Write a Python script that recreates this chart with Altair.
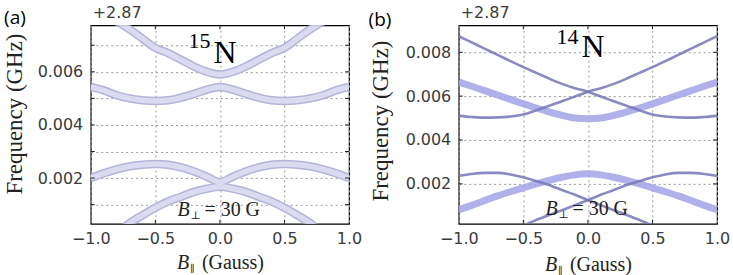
import altair as alt
import pandas as pd

# Parallel field (Gauss) at which every level was sampled
b_par = [-1.0, -0.9, -0.8, -0.7, -0.6, -0.5, -0.4, -0.3, -0.2, -0.1, 0.0,
         0.1, 0.2, 0.3, 0.4, 0.5, 0.6, 0.7, 0.8, 0.9, 1.0]

# 15N transition frequencies (GHz, offset from 2.87)
n15_top = [0.0085, 0.0082, 0.0079, 0.0076, 0.00725, 0.0069, 0.0067, 0.00645, 0.0062, 0.0060, 0.0059,
           0.0060, 0.0062, 0.00645, 0.0067, 0.0069, 0.00725, 0.0076, 0.0079, 0.0082, 0.0085]
n15_upper = [0.00543, 0.0053, 0.00512, 0.0050, 0.00493, 0.0049, 0.00493, 0.00503, 0.00517, 0.00533, 0.00543,
             0.00533, 0.00517, 0.00503, 0.00493, 0.0049, 0.00493, 0.0050, 0.00512, 0.0053, 0.00543]
n15_lower = [0.0020, 0.00218, 0.00233, 0.00244, 0.0025, 0.00253, 0.0025, 0.0024, 0.00225, 0.00205, 0.00185,
             0.00205, 0.00225, 0.0024, 0.0025, 0.00253, 0.0025, 0.00244, 0.00233, 0.00218, 0.0020]
n15_bottom = [-0.0007, -0.0004, -0.0001, 0.0003, 0.0006, 0.00088, 0.00112, 0.0013, 0.00148, 0.0016, 0.00167,
              0.0016, 0.00148, 0.0013, 0.00112, 0.00088, 0.0006, 0.0003, -0.0001, -0.0004, -0.0007]

# 14N transition frequencies (GHz, offset from 2.87): weak (thin) and strong (wide) lines
n14_thin_hi_a = [0.00873, 0.00845, 0.00817, 0.00788, 0.0076, 0.00732, 0.00706, 0.0068, 0.00656, 0.00636, 0.0062,
                 0.00598, 0.00577, 0.00556, 0.00535, 0.00516, 0.00507, 0.00503, 0.00502, 0.00505, 0.0051]
n14_thin_hi_b = list(reversed(n14_thin_hi_a))
n14_thin_lo_a = [0.00236, 0.00245, 0.0025, 0.0025, 0.00243, 0.0023, 0.00213, 0.00195, 0.00172, 0.0015, 0.00126,
                 0.00103, 0.0008, 0.00058, 0.00035, 0.0001, -0.00013, -0.00036, -0.0006, -0.0008, -0.001]
n14_thin_lo_b = list(reversed(n14_thin_lo_a))
n14_wide_hi = [0.00664, 0.00645, 0.00625, 0.00605, 0.00585, 0.00565, 0.00546, 0.00528, 0.00512, 0.0050, 0.00497,
               0.0050, 0.00512, 0.00528, 0.00546, 0.00565, 0.00585, 0.00605, 0.00625, 0.00645, 0.00664]
n14_wide_lo = [0.00082, 0.00102, 0.00124, 0.00145, 0.00164, 0.00182, 0.0020, 0.00216, 0.0023, 0.00241, 0.00246,
               0.00241, 0.0023, 0.00216, 0.0020, 0.00182, 0.00164, 0.00145, 0.00124, 0.00102, 0.00082]

x_ticks = [-1.0, -0.5, 0.0, 0.5, 1.0]
y_grid_15 = [0.001, 0.002, 0.003, 0.004, 0.005, 0.006, 0.007]
y_ticks_14 = [0.002, 0.004, 0.006, 0.008]

W, H = 259, 199
LEFT, TOP = 90, 24          # position of the first plot area in the page
FULL_W, FULL_H = 733, 275
SERIF = "Liberation Serif"
TICK = 4                    # length of the inward tick marks


def table(curves):
    rows = []
    for name, ys in curves.items():
        for b, f in zip(b_par, ys):
            rows.append({"B": b, "f": f, "curve": name})
    return pd.DataFrame(rows)


def x_enc():
    return alt.X("B:Q", scale=alt.Scale(domain=[-1, 1], nice=False, zero=False),
                  axis=alt.Axis(values=x_ticks, format=".1f", title=None))


def y_enc(y_domain, y_axis):
    return alt.Y("f:Q", scale=alt.Scale(domain=y_domain, nice=False, zero=False), axis=y_axis)


def label(text, x, y, **style):
    return (alt.Chart(pd.DataFrame({"t": [text]}))
            .mark_text(**style)
            .encode(x=alt.value(x), y=alt.value(y), text="t:N"))


def inward_ticks(y_values, y_domain, y_axis):
    """Short ticks pointing into the frame on all four sides."""
    xs = pd.DataFrame({"B": [-0.5, 0.0, 0.5]})
    ys = pd.DataFrame({"f": y_values})
    style = dict(color="#222", strokeWidth=1)
    return [
        alt.Chart(xs).mark_rule(**style).encode(x=x_enc(), y=alt.value(H), y2=alt.value(H - TICK)),
        alt.Chart(xs).mark_rule(**style).encode(x=x_enc(), y=alt.value(0), y2=alt.value(TICK)),
        alt.Chart(ys).mark_rule(**style).encode(y=y_enc(y_domain, y_axis), x=alt.value(0), x2=alt.value(TICK)),
        alt.Chart(ys).mark_rule(**style).encode(y=y_enc(y_domain, y_axis), x=alt.value(W), x2=alt.value(W - TICK)),
    ]


def decorations(tag, tag_xy, iso, iso_y, iso_sup_y, perp_y, ytitle_xy, xtitle_y):
    return [
        label(tag, tag_xy[0], tag_xy[1], font="Open Sans", fontSize=19, color="black"),
        label("+2.87", 2, -12, font="DejaVu Sans", fontSize=16, color="#3a3a3a",
              align="left", baseline="middle"),
        label(iso, 120, iso_sup_y, font=SERIF, fontSize=22, color="black",
              align="right", baseline="alphabetic"),
        label("N", 123, iso_y, font=SERIF, fontSize=32, color="black",
              align="left", baseline="alphabetic"),
        label("B", 87, perp_y, font=SERIF, fontSize=20, fontStyle="italic",
              color="#222", align="left", baseline="alphabetic"),
        label("⊥", 100, perp_y + 3, font="DejaVu Serif", fontSize=11,
              color="#222", align="left", baseline="alphabetic"),
        label("= 30 G", 114, perp_y, font=SERIF, fontSize=20,
              color="#222", align="left", baseline="alphabetic"),
        label("Frequency (GHz)", ytitle_xy[0], ytitle_xy[1], font=SERIF, fontSize=23,
              angle=270, color="#222", baseline="middle"),
        label("B", W / 2 - 43, xtitle_y, font=SERIF, fontSize=20, fontStyle="italic",
              color="#222", align="left", baseline="alphabetic"),
        label("∥", W / 2 - 30, xtitle_y + 3, font="DejaVu Serif", fontSize=10,
              color="#222", align="left", baseline="alphabetic"),
        label("(Gauss)", W / 2 - 18, xtitle_y, font=SERIF, fontSize=20,
              color="#222", align="left", baseline="alphabetic"),
    ]


# Invisible box spanning the whole page, so that padding places the plots exactly
page = (alt.Chart(pd.DataFrame({"t": [0]}))
        .mark_rect(fillOpacity=0, strokeOpacity=0, clip=False)
        .encode(x=alt.value(-LEFT), x2=alt.value(FULL_W - LEFT),
                y=alt.value(-TOP), y2=alt.value(FULL_H - TOP - 1)))

# Panel (a): 15N
dom15 = [0.00028, 0.00775]
data15 = table({"top": n15_top, "upper": n15_upper, "lower": n15_lower, "bottom": n15_bottom})
axis15 = alt.Axis(values=y_grid_15, title=None,
                  labelExpr="round(datum.value * 1000) % 2 == 0 ? format(datum.value, '.3f') : ''")
enc15 = dict(x=x_enc(), y=y_enc(dom15, axis15), detail="curve:N")
band_edge = alt.Chart(data15).mark_line(interpolate="monotone", clip=True, strokeWidth=8.5,
                                        color="#b4b4da").encode(**enc15)
band_fill = alt.Chart(data15).mark_line(interpolate="monotone", clip=True, strokeWidth=5.5,
                                        color="#dadaf0").encode(**enc15)
panel_a = alt.layer(
    page, band_edge, band_fill,
    *inward_ticks(y_grid_15, dom15, axis15),
    *decorations("(a)", (-76, -7), "15", 38, 23, 191, (-76, 89), 244)
).properties(width=W, height=H)

# Panel (b): 14N
dom14 = [0.00018, 0.00923]
thin14 = table({"hi_a": n14_thin_hi_a, "hi_b": n14_thin_hi_b,
                "lo_a": n14_thin_lo_a, "lo_b": n14_thin_lo_b})
wide14 = table({"hi": n14_wide_hi, "lo": n14_wide_lo})
axis14 = alt.Axis(values=y_ticks_14, format=".3f", title=None)
enc14 = dict(x=x_enc(), y=y_enc(dom14, axis14), detail="curve:N")
wide_lines = alt.Chart(wide14).mark_line(interpolate="monotone", clip=True, strokeWidth=7,
                                         color="#a2a2e6", opacity=0.85).encode(**enc14)
thin_lines = alt.Chart(thin14).mark_line(interpolate="monotone", clip=True, strokeWidth=2.6,
                                         color="#7676b8", opacity=0.85).encode(**enc14)
panel_b = alt.layer(
    wide_lines, thin_lines,
    *inward_ticks(y_ticks_14, dom14, axis14),
    *decorations("(b)", (-79, -5), "14", 32, 19, 190, (-78, 96), 246)
).properties(width=W, height=H)

chart = alt.hconcat(panel_a, panel_b, spacing=110, bounds="flush").properties(
    padding=0,
).configure_view(
    stroke="black", strokeWidth=1.2
).configure_axis(
    labelFont="DejaVu Sans", labelFontSize=16, labelColor="#3a3a3a", labelFlush=False,
    tickSize=0, domain=False, grid=True, gridDash=[2, 3], gridColor="#999999",
    gridWidth=1, gridOpacity=1
).configure_axisX(
    labelPadding=7
).configure_axisY(
    labelPadding=8
)

chart.save("out.html", embed_options={"renderer": "svg", "actions": False})
